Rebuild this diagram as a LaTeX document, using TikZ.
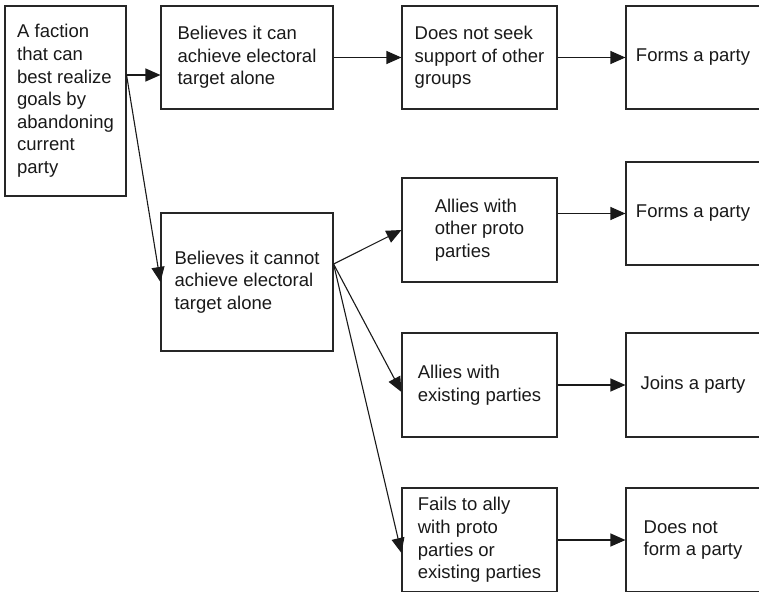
\documentclass[tikz,border=0pt]{standalone}
\usepackage{fontspec}
\setmainfont{Liberation Sans}
\usetikzlibrary{arrows.meta,calc}
\begin{document}
\begin{tikzpicture}[x=1pt,y=-1pt,
  box/.style={draw=black!85, line width=1.1pt, rectangle, align=left, inner sep=0pt,
    font=\fontsize{18.5}{22.6}\selectfont, text=black!90},
  cbox/.style={box, minimum width=155pt, minimum height=104pt},
  dbox/.style={box, minimum width=134pt, minimum height=104pt},
  link/.style={draw=black!90, line width=1.1pt, -{Triangle[length=15pt,width=13pt]}}
]
\clip (0,0) rectangle (759,591);
\useasboundingbox (0,0) rectangle (759,591);

% starting point
\node[box, minimum width=121pt, minimum height=190pt] (faction) at (65.5,101)
  {A faction\\that can\\best realize\\goals by\\abandoning\\current\\party};

% second column
\node[box, minimum width=172pt, minimum height=103pt] (canbox) at (247,57.5)
  {Believes it can\\achieve electoral\\target alone};
\node[box, minimum width=172pt, minimum height=138pt] (cannot) at (247,282)
  {Believes it cannot\\achieve electoral\\target alone};

% third column
\node[cbox, minimum height=103pt] (noseek) at (479.5,57.5)
  {Does not seek\\support of other\\groups};
\node[cbox] (proto) at (479.5,230) {Allies with\\other proto\\parties};
\node[cbox] (existing) at (479.5,385) {Allies with\\existing parties};
\node[cbox] (fails) at (479.5,540)
  {Fails to ally\\with proto\\parties or\\existing parties};

% outcomes
\node[dbox, minimum height=103pt] (forms1) at (693,57.5) {Forms a party};
\node[dbox, minimum height=103pt] (forms2) at (693,213.5) {Forms a party};
\node[dbox] (joins) at (693,385) {Joins a party};
\node[dbox] (notform) at (693,540) {Does not\\form a party};

% connectors
\coordinate (fork) at ($(faction.east)+(0,-26)$);
\draw[link] (fork) -- (fork -| canbox.west);
\draw[link] (fork) -- (cannot.west);
\draw[link] (canbox) -- (noseek);
\draw[link] (noseek) -- (forms1);

\coordinate (split) at ($(cannot.east)+(0,-18)$);
\draw[link] (split) -- (proto.west);
\draw[link] (split) -- ($(existing.west)+(0,7)$);
\draw[link] (split) -- ($(fails.west)+(0,13)$);

\draw[link] (proto.east |- forms2.west) -- (forms2.west);
\draw[link] (existing) -- (joins);
\draw[link] (fails) -- (notform);
\end{tikzpicture}
\end{document}
